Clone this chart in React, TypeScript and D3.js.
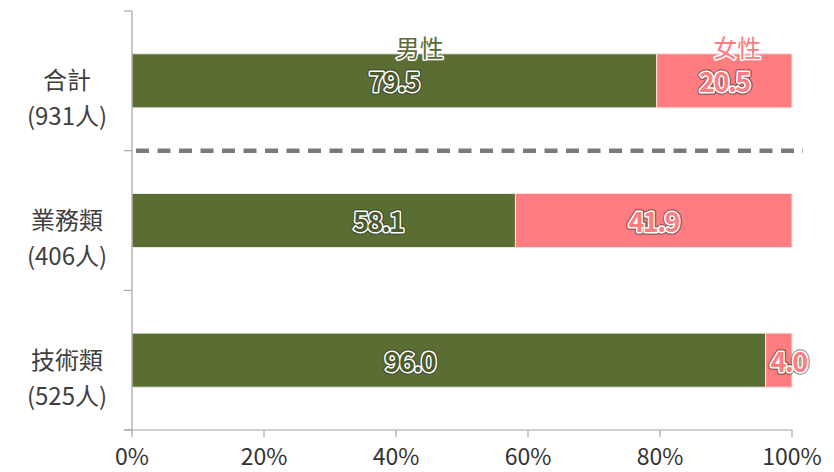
import React from "react";
import * as d3 from "d3";

const categories = ["合計", "業務類", "技術類"];
const categoryCounts = ["(931人)", "(406人)", "(525人)"];
const maleValues = [79.5, 58.1, 96.0];
const femaleValues = [20.5, 41.9, 4.0];
const seriesNames = ["男性", "女性"];
const tickValues = [0, 20, 40, 60, 80, 100];

// layout constants (label anchors in value units, as placed in the original)
const maleLabelAt = [39.7, 37.3, 42.1];
const seriesNameAt = [43.6, 91.7];

const W = 834;
const H = 472;
const GREEN = "#5a6d33";
const PINK = "#ff7c80";
const FONT = "'Noto Sans CJK TC', 'Noto Sans', sans-serif";

export default function App() {
  const x = d3.scaleLinear().domain([0, 100]).range([132, 792]);
  const y = d3.scaleBand().domain(categories).range([11, 430]).paddingInner(0.613).paddingOuter(0.3065);
  const boundaries = d3.range(categories.length + 1).map((i) => 11 + (i * (430 - 11)) / categories.length);

  const valueLabel = (key: string, tx: number, ty: number, text: string, fill: string, anchor: string) => (
    <g key={key}>
      <text x={tx} y={ty} textAnchor={anchor} dominantBaseline="central" fontFamily={FONT} fontSize={27}
        fontWeight="bold" letterSpacing={-1.5} fill="none" stroke="rgba(50,50,50,0.55)" strokeWidth={5.5} strokeLinejoin="round">{text}</text>
      <text x={tx} y={ty} textAnchor={anchor} dominantBaseline="central" fontFamily={FONT} fontSize={27}
        fontWeight="bold" letterSpacing={-1.5} fill={fill} stroke="#fff" strokeWidth={3} strokeLinejoin="round"
        style={{ paintOrder: "stroke" }}>{text}</text>
    </g>
  );

  return (
    <svg width={W} height={H} style={{ position: "absolute", left: 0, top: 0, background: "#fff" }}>
      {/* bars */}
      {categories.map((c, i) => {
        const y0 = y(c)!;
        const bh = y.bandwidth();
        return (
          <g key={c}>
            <rect x={x(0)} y={y0} width={x(maleValues[i]) - x(0)} height={bh} fill={GREEN} stroke="#e8eedc" strokeWidth={1} />
            <rect x={x(maleValues[i])} y={y0} width={x(maleValues[i] + femaleValues[i]) - x(maleValues[i])} height={bh}
              fill={PINK} stroke="#ffe0e0" strokeWidth={1} />
          </g>
        );
      })}

      {/* dashed separator */}
      <line x1={136} x2={803} y1={boundaries[1]} y2={boundaries[1]} stroke="#7a7a7a" strokeWidth={4.5} strokeDasharray="13,8.5" />

      {/* y axis */}
      <line x1={x(0)} x2={x(0)} y1={boundaries[0]} y2={boundaries[3]} stroke="#a6a6a6" strokeWidth={1.2} />
      {boundaries.map((b, i) => (
        <line key={i} x1={124} x2={x(0)} y1={b} y2={b} stroke="#a6a6a6" strokeWidth={1.2} />
      ))}

      {/* x axis */}
      <line x1={124} x2={x(100)} y1={430} y2={430} stroke="#a6a6a6" strokeWidth={1.2} />
      {tickValues.map((t) => (
        <g key={t}>
          <line x1={x(t)} x2={x(t)} y1={430} y2={437} stroke="#a6a6a6" strokeWidth={1.2} />
          <text x={x(t)} y={465} textAnchor="middle" fontFamily={FONT} fontSize={23} fill="#333">{t}%</text>
        </g>
      ))}

      {/* category labels */}
      {categories.map((c, i) => {
        const cy = y(c)! + y.bandwidth() / 2;
        return (
          <g key={c} fontFamily={FONT} fontSize={24} fill="#404040" textAnchor="middle">
            <text x={67} y={cy - 2} dominantBaseline="central">{c}</text>
            <text x={67} y={cy + 34} dominantBaseline="central">{categoryCounts[i]}</text>
          </g>
        );
      })}

      {/* value labels */}
      {categories.map((c, i) => {
        const cy = y(c)! + y.bandwidth() / 2;
        const fStart = x(maleValues[i]);
        const fEnd = x(maleValues[i] + femaleValues[i]);
        const narrow = fEnd - fStart < 40;
        return (
          <g key={c}>
            {valueLabel("m", x(maleLabelAt[i]), cy, maleValues[i].toFixed(1), "#4c5a2c", "middle")}
            {valueLabel("f", narrow ? fStart + 5 : (fStart + fEnd) / 2, cy, femaleValues[i].toFixed(1), PINK, narrow ? "start" : "middle")}
          </g>
        );
      })}

      {/* series names */}
      {seriesNames.map((s, i) => (
        <text key={s} x={x(seriesNameAt[i])} y={46} textAnchor="middle" dominantBaseline="central" fontFamily={FONT}
          fontSize={24} fill={i === 0 ? GREEN : PINK} stroke="#fff" strokeWidth={3} strokeLinejoin="round"
          style={{ paintOrder: "stroke" }}>{s}</text>
      ))}
    </svg>
  );
}
